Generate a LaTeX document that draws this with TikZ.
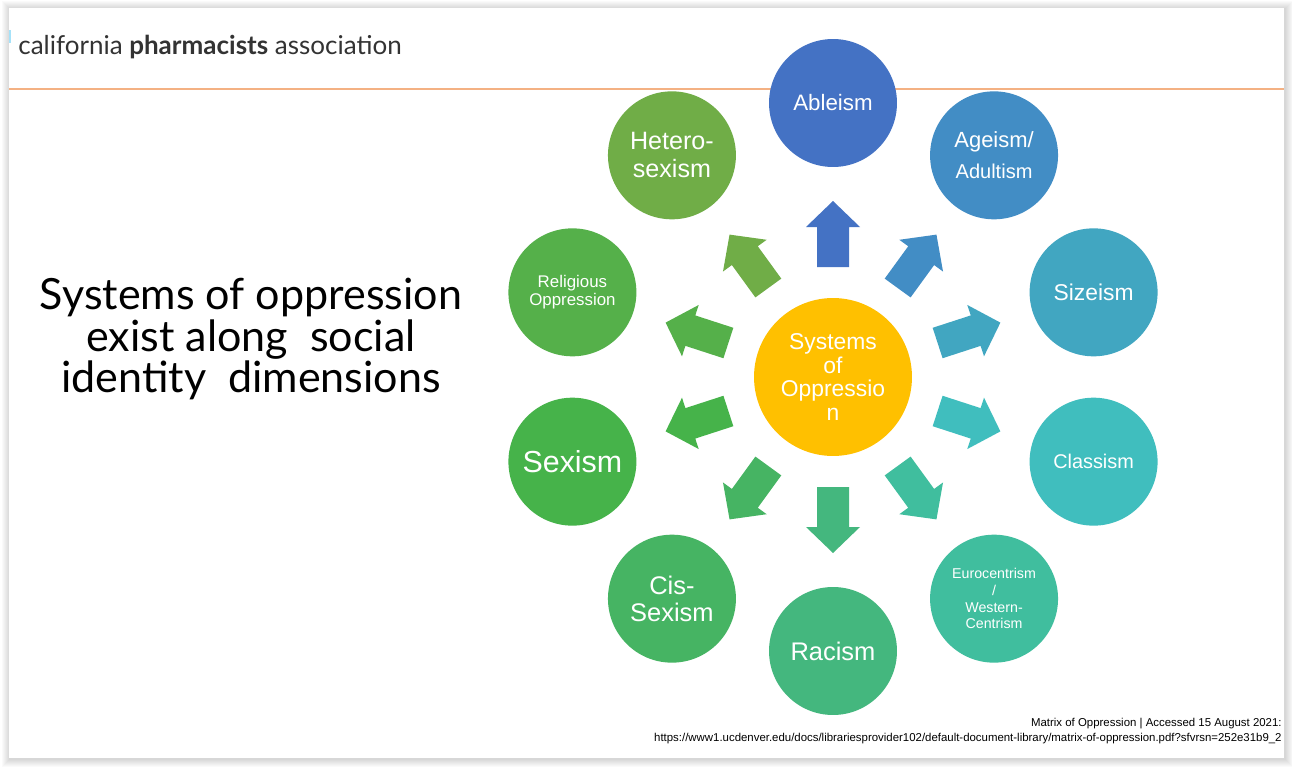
\documentclass[tikz,border=0pt]{standalone}
\usepackage{fontspec}
\setmainfont{Lato}
\newfontfamily\arialfont{Liberation Sans}
\usetikzlibrary{calc}
\definecolor{ablecol}{HTML}{4472C4}
\definecolor{agecol}{HTML}{428DC5}
\definecolor{sizecol}{HTML}{41A6C1}
\definecolor{classcol}{HTML}{40BEBE}
\definecolor{eurocol}{HTML}{40BE9E}
\definecolor{racecol}{HTML}{44B77E}
\definecolor{ciscol}{HTML}{46B463}
\definecolor{sexcol}{HTML}{46B34A}
\definecolor{relcol}{HTML}{55B04A}
\definecolor{hetcol}{HTML}{70AD47}
\definecolor{syscol}{HTML}{FFC000}
\definecolor{rulecol}{HTML}{F4B183}
\newcommand{\fs}[2]{\fontsize{#1}{#2}\selectfont}
\begin{document}
\begin{tikzpicture}[x=0.02cm,y=0.02cm,
    bubble/.style={circle,minimum size=2.56cm,inner sep=0pt,text=white,align=center},
    hub/.style={bubble,minimum size=3.16cm,fill=syscol},
    blockarrow/.style={fill=#1}
  ]
  \useasboundingbox (0,0) rectangle (1292,-767);
  % slide and its shadow
  \fill[white] (0,0) rectangle (1292,-767);
  \foreach \d in {1,...,8}
    \fill[black,opacity=0.02] (9-\d+1,-8+\d-1) rectangle (1284+\d+1,-758-\d-1);
  \fill[white] (9,-8) rectangle (1284,-758);

  % header
  \fill[cyan!35] (9,-30) rectangle (10.5,-43);
  \node[anchor=base west,inner sep=0pt,text=black!80,font=\fs{14.8}{17}] (head) at (18,-55)
    {california \textbf{pharmacists} association};
  \draw[rulecol,line width=1.2pt] (9,-89) -- (1284,-89);

  % title
  \node[align=center,inner sep=0pt,font=\fs{24.5}{23.8}] (title) at (251,-339)
    {Systems of oppression\\exist along\ \ social\\identity\ \ dimensions};

  % centre
  \node[hub,font=\arialfont\fs{13}{13.3}] (sys) at (833,-377)
    {Systems\\of\\Oppressio\\n};

  % arrows
  \foreach \ang/\col in {90/ablecol,54/agecol,18/sizecol,-18/classcol,-54/eurocol,
      -90/racecol,-126/ciscol,-162/sexcol,162/relcol,126/hetcol}
    \fill[blockarrow=\col,shift={(833,-377)},rotate=\ang]
      (110,-16) -- (150,-16) -- (150,-27) -- (176,0) -- (150,27) -- (150,16) -- (110,16) -- cycle;

  % outer circles
  \node[bubble,fill=ablecol,font=\arialfont\fs{12.7}{15}] (able) at ($(sys)+(90:274)$)
    {Ableism};
  \node[bubble,fill=agecol,font=\arialfont\fs{12.5}{17.6}] (age) at ($(sys)+(54:274)$)
    {Ageism/\\\fs{11.4}{17.6}Adultism};
  \node[bubble,fill=sizecol,font=\arialfont\fs{13}{15}] (size) at ($(sys)+(18:274)$)
    {Sizeism};
  \node[bubble,fill=classcol,font=\arialfont\fs{11.3}{14}] (class) at ($(sys)+(-18:274)$)
    {Classism};
  \node[bubble,fill=eurocol,font=\arialfont\fs{8.1}{9.4}] (euro) at ($(sys)+(-54:274)$)
    {Eurocentrism\\/\\Western-\\Centrism};
  \node[bubble,fill=racecol,font=\arialfont\fs{14.5}{17}] (race) at ($(sys)+(-90:274)$)
    {Racism};
  \node[bubble,fill=ciscol,font=\arialfont\fs{14.5}{15.3}] (cis) at ($(sys)+(-126:274)$)
    {Cis-\\Sexism};
  \node[bubble,fill=sexcol,font=\arialfont\fs{17.3}{20}] (sex) at ($(sys)+(-162:274)$)
    {Sexism};
  \node[bubble,fill=relcol,font=\arialfont\fs{9.6}{10.2}] (rel) at ($(sys)+(162:274)$)
    {Religious\\Oppression};
  \node[bubble,fill=hetcol,font=\arialfont\fs{14.3}{15.9}] (het) at ($(sys)+(126:274)$)
    {Hetero-\\sexism};

  % source
  \node[anchor=base east,align=right,inner sep=0pt,font=\arialfont\fs{6.5}{8.5}] (src) at (1282,-741)
    {Matrix of Oppression | Accessed 15 August 2021:\\
     https://www1.ucdenver.edu/docs/librariesprovider102/default-document-library/matrix-of-oppression.pdf?sfvrsn=252e31b9\_2};
\end{tikzpicture}
\end{document}
